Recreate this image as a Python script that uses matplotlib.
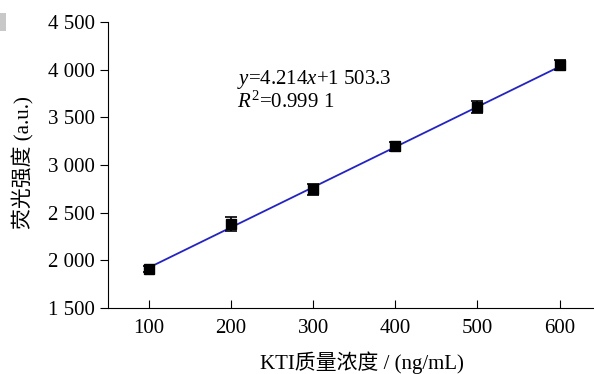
import matplotlib
matplotlib.use("Agg")
import matplotlib.pyplot as plt
from matplotlib.patches import Rectangle
import numpy as np

plt.rcParams['font.family'] = ['Liberation Serif', 'Noto Sans CJK SC']
plt.rcParams['mathtext.fontset'] = 'custom'
plt.rcParams['mathtext.rm'] = 'Liberation Serif'
plt.rcParams['mathtext.it'] = 'Liberation Serif:italic'

# data
conc = [100, 200, 300, 400, 500, 600]
intensity = [1910, 2380, 2745, 3195, 3605, 4050]
errors = [35, 70, 58, 45, 62, 50]
slope = 4.214
intercept = 1503.3
yticks = [1500, 2000, 2500, 3000, 3500, 4000, 4500]
ytick_labels = ['1 500', '2 000', '2 500', '3 000', '3 500', '4 000', '4 500']
xticks = [100, 200, 300, 400, 500, 600]

fig = plt.figure(figsize=(5.94, 3.74), dpi=100)
ax = fig.add_axes([108/594, 1-308/374, 1-108/594, (308-22)/374])

fit_x = np.array([conc[0], conc[-1]])
ax.plot(fit_x, slope*fit_x + intercept, color='#2222cc', lw=1.3, zorder=2)
ax.errorbar(conc, intensity, yerr=errors, fmt='s', color='black', ms=7,
            capsize=4, elinewidth=1.2, capthick=1.2, zorder=3)

ax.text(207, 3850, r"$y$=4.214$x$+1 503.3", fontsize=15)
ax.text(207, 3605, r"$R^{\mathrm{2}}$=0.999 1", fontsize=15)

ax.set_xlim(50, 642)
ax.set_ylim(1500, 4500)
ax.set_xticks(xticks)
ax.set_yticks(yticks)
ax.set_yticklabels(ytick_labels)
ax.tick_params(axis='x', direction='in', length=6, labelsize=15, pad=8)
ax.tick_params(axis='y', direction='out', length=6, labelsize=15)
ax.spines['top'].set_visible(False)
ax.spines['right'].set_visible(False)

ax.set_ylabel('荧光强度 (a.u.)', fontsize=15)
ax.yaxis.set_label_coords(-(108-34)/(594-108), (308-163)/(308-22))
ax.set_xlabel('KTI质量浓度 / (ng/mL)', fontsize=15, va='center')
ax.xaxis.set_label_coords((362-108)/(594-108), -(363-308)/(308-22))

fig.add_artist(Rectangle((0, 1-31/374), 6/594, 18/374, transform=fig.transFigure,
                         color='#c8c8c8', lw=0))

fig.savefig('out.png', dpi=100)
